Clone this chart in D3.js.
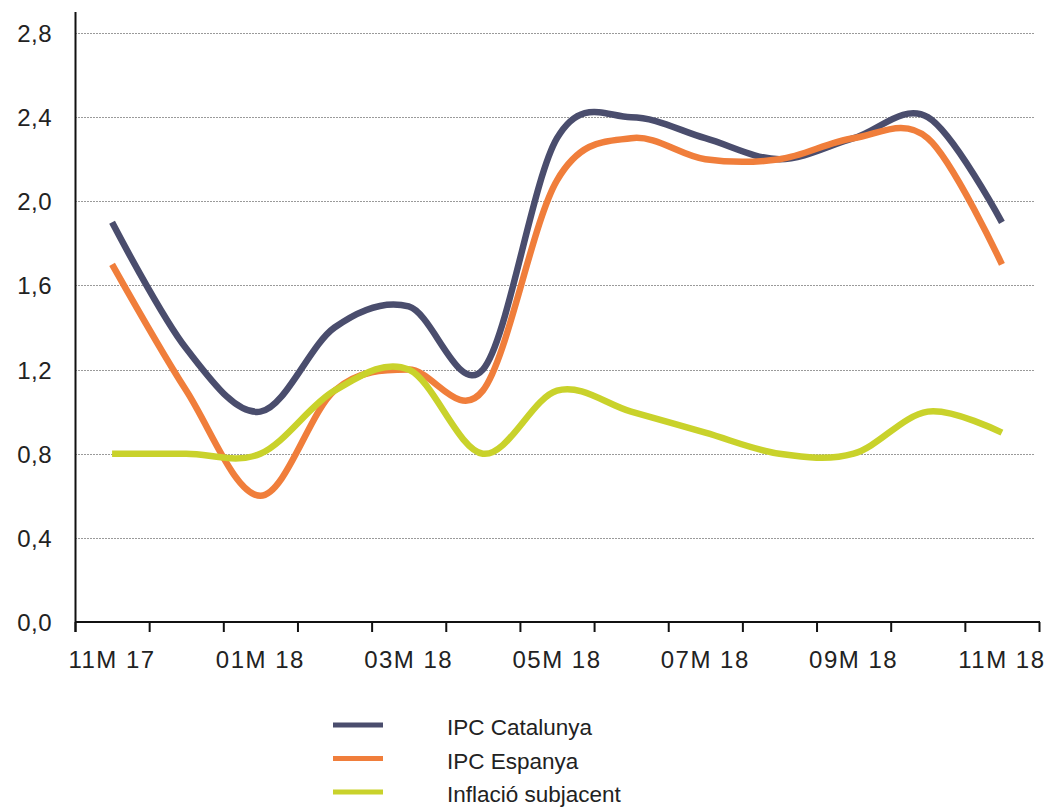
<!DOCTYPE html>
<html>
<head>
<meta charset="utf-8">
<script src="https://cdn.jsdelivr.net/npm/d3@7"></script>
<style>
  html, body { margin: 0; padding: 0; background: #fff; }
  svg { display: block; }
  text { font-family: "Liberation Sans", Arial, sans-serif; fill: #222; }
</style>
</head>
<body>
<svg id="chart" width="1053" height="808"></svg>
<script>
const categories = ["11M 17","12M 17","01M 18","02M 18","03M 18","04M 18","05M 18","06M 18","07M 18","08M 18","09M 18","10M 18","11M 18"];
const ipcCatalunya = [1.9, 1.3, 1.0, 1.4, 1.5, 1.2, 2.3, 2.4, 2.3, 2.2, 2.3, 2.4, 1.9];
const ipcEspanya   = [1.7, 1.1, 0.6, 1.1, 1.2, 1.1, 2.1, 2.3, 2.2, 2.2, 2.3, 2.3, 1.7];
const inflacioSubj = [0.8, 0.8, 0.8, 1.1, 1.2, 0.8, 1.1, 1.0, 0.9, 0.8, 0.8, 1.0, 0.9];
const yTicks = [0, 0.4, 0.8, 1.2, 1.6, 2.0, 2.4, 2.8];
const seriesNames = ["IPC Catalunya", "IPC Espanya", "Inflació subjacent"];
const seriesColors = ["#4a4d6d", "#f07e3b", "#c9d22b"];

const series = [ipcCatalunya, ipcEspanya, inflacioSubj];
const svg = d3.select("#chart");
const pLeft = 75, pRight = 1039, pTop = 12, pBottom = 622;

const x = d3.scaleBand().domain(categories).range([pLeft, pRight]).padding(0);
const y = d3.scaleLinear().domain([0, 2.9]).range([pBottom, pTop]);

// gridlines
svg.append("g").selectAll("line").data(yTicks.filter(d => d > 0)).join("line")
  .attr("x1", pLeft).attr("x2", pRight - 4)
  .attr("y1", d => Math.round(y(d)) + 0.5).attr("y2", d => Math.round(y(d)) + 0.5)
  .attr("stroke", "#9a9a9a").attr("stroke-width", 1).attr("stroke-dasharray", "2,1");

// y labels
svg.append("g").selectAll("text").data(yTicks).join("text")
  .attr("x", 52).attr("y", d => y(d) + 9)
  .attr("text-anchor", "end").attr("font-size", 24)
  .attr("letter-spacing", 0.5)
  .text(d => d3.format(".1f")(d).replace(".", ","));

// y axis line
svg.append("line").attr("x1", pLeft + 0.5).attr("x2", pLeft + 0.5)
  .attr("y1", pTop).attr("y2", pBottom + 10).attr("stroke", "#111").attr("stroke-width", 2);

// x axis
svg.append("line").attr("x1", pLeft).attr("x2", pRight + 1)
  .attr("y1", pBottom).attr("y2", pBottom).attr("stroke", "#111").attr("stroke-width", 2);
const edges = categories.map(c => x(c)).concat([pRight]);
svg.append("g").selectAll("line").data(edges).join("line")
  .attr("x1", d => d + 0.5).attr("x2", d => d + 0.5)
  .attr("y1", pBottom).attr("y2", pBottom + 10)
  .attr("stroke", "#111").attr("stroke-width", 2);
svg.append("g").selectAll("text").data(categories.filter((c, i) => i % 2 === 0)).join("text")
  .attr("x", d => x(d) + x.bandwidth() / 2).attr("y", 668)
  .attr("text-anchor", "middle").attr("font-size", 24)
  .attr("letter-spacing", 1.5)
  .text(d => d);

// lines
const line = d3.line()
  .x((d, i) => x(categories[i]) + x.bandwidth() / 2)
  .y(d => y(d))
  .curve(d3.curveCardinal.tension(0));

svg.append("g").selectAll("path").data(series).join("path")
  .attr("d", d => line(d))
  .attr("fill", "none")
  .attr("stroke", (d, i) => seriesColors[i])
  .attr("stroke-width", 6.5)
  .attr("stroke-linecap", "butt")
  .attr("stroke-linejoin", "round");

// legend
const lg = svg.append("g");
seriesNames.forEach((name, i) => {
  const cy = 725 + i * 33.5;
  lg.append("line").attr("x1", 333).attr("x2", 383).attr("y1", cy).attr("y2", cy)
    .attr("stroke", seriesColors[i]).attr("stroke-width", 5);
  lg.append("text").attr("x", 447).attr("y", cy + 10).attr("font-size", 22.5).text(name);
});
</script>
</body>
</html>
